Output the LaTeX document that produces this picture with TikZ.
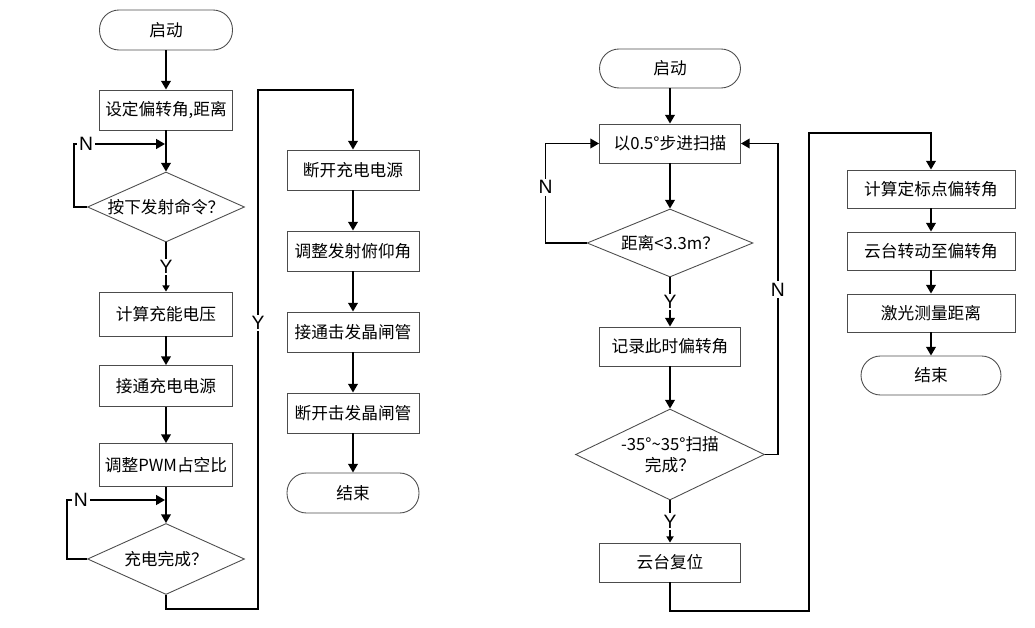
\documentclass[tikz,border=0pt]{standalone}
\usepackage{fontspec}
\setmainfont{Liberation Sans}
\newfontfamily\cjk{Noto Sans CJK SC}
\usetikzlibrary{arrows.meta, shapes.geometric, positioning}

\begin{document}
\begin{tikzpicture}[x=0.02cm, y=-0.02cm,
  procbox/.style={draw=black!70, line width=0.5pt, minimum height=0.8cm, inner sep=2pt, font=\cjk\fontsize{9.5}{12}\selectfont},
  termbox/.style={procbox, rounded corners=0.39cm},
  decision/.style={draw=black!70, line width=0.5pt, diamond, inner sep=0pt, align=center, font=\cjk\fontsize{9.5}{12}\selectfont},
  flow/.style={line width=1pt, -{Triangle[length=5pt,width=5.5pt]}},
  flowsmall/.style={line width=1pt, -{Triangle[length=3.5pt,width=4pt]}},
  yn/.style={fill=white, inner sep=1pt, font=\fontsize{11}{13}\selectfont}
]
\useasboundingbox (0,0) rectangle (1035,628);

% -------- Left chart: charging --------
\node[termbox, minimum width=2.66cm] (start1) at (166,30) {启动};
\node[procbox, minimum width=2.66cm] (angle) at (166,110) {设定偏转角,距离};
\node[decision, minimum width=3.14cm, minimum height=1.4cm, shape aspect=2.3] (fire) at (166,207) {按下发射命令？};
\node[procbox, minimum width=2.66cm, minimum height=0.88cm] (volt) at (166,314) {计算充能电压};
\node[procbox, minimum width=2.66cm, minimum height=0.82cm] (chgon) at (166,386) {接通充电电源};
\node[procbox, minimum width=2.66cm, minimum height=0.86cm] (pwm) at (166,465) {调整PWM占空比};
\node[decision, minimum width=3.14cm, minimum height=1.42cm, shape aspect=2.2] (full) at (166,559) {充电完成？};

% -------- Middle chart: firing --------
\node[procbox, minimum width=2.64cm] (chgoff) at (353,170) {断开充电电源};
\node[procbox, minimum width=2.64cm] (pitch) at (353,251) {调整发射俯仰角};
\node[procbox, minimum width=2.64cm] (scron) at (353,332) {接通击发晶闸管};
\node[procbox, minimum width=2.64cm] (scroff) at (353,413) {断开击发晶闸管};
\node[termbox, minimum width=2.64cm] (end1) at (353,493) {结束};

% -------- Right chart: scanning --------
\node[termbox, minimum width=2.82cm, minimum height=0.78cm] (start2) at (670,68.5) {启动};
\node[procbox, minimum width=2.82cm, minimum height=0.78cm] (scan) at (670,143.5) {以0.5°步进扫描};
\node[decision, minimum width=3.32cm, minimum height=1.36cm, shape aspect=2.4] (near) at (670,243) {距离<3.3m？};
\node[procbox, minimum width=2.82cm, minimum height=0.78cm] (record) at (670,346.5) {记录此时偏转角};
\node[decision, minimum width=3.78cm, minimum height=1.82cm, shape aspect=2.08] (sweep) at (670,454.5) {-35°\textasciitilde35°扫描\\完成？};
\node[procbox, minimum width=2.82cm, minimum height=0.78cm] (reset) at (670,562.5) {云台复位};

% -------- Right chart: measuring --------
\node[procbox, minimum width=3.36cm, minimum height=0.76cm] (target) at (931,189) {计算定标点偏转角};
\node[procbox, minimum width=3.36cm, minimum height=0.76cm] (turn) at (931,251) {云台转动至偏转角};
\node[procbox, minimum width=3.36cm, minimum height=0.76cm] (laser) at (931,313) {激光测量距离};
\node[termbox, minimum width=2.8cm, minimum height=0.78cm] (end2) at (931,375.5) {结束};

% -------- Connectors, left --------
\coordinate (j1) at (165,144);
\coordinate (j2) at (165,500);
\draw[flow] (start1) -- (angle);
\draw[flow] (angle) -- (fire);
\draw[flow] (fire.west) -- ++(-13,0) |- node[yn, pos=0.566] {N} (j1);
\draw[flowsmall] (fire) -- node[yn] {Y} (volt);
\draw[flow] (volt) -- (chgon);
\draw[flow] (chgon) -- (pwm);
\draw[flow] (pwm) -- (full);
\draw[flow] (full.west) -- ++(-20,0) |- node[yn, pos=0.57] {N} (j2);
\draw[flow] (full.south) -- (166,609) -- (258,609) -- node[yn, pos=0.551] {Y} (258,90) -| (chgoff.north);

% -------- Connectors, middle --------
\draw[flow] (chgoff) -- (pitch);
\draw[flow] (pitch) -- (scron);
\draw[flow] (scron) -- (scroff);
\draw[flow] (scroff) -- (end1);

% -------- Connectors, right --------
\draw[flow] (start2) -- (scan);
\draw[flow] (scan) -- (near);
\draw[flow] (near.west) -- ++(-41,0) |- node[yn, pos=0.28] {N} (scan.west);
\draw[flow] (near) -- node[yn] {Y} (record);
\draw[flow] (record) -- (sweep);
\draw[flow] (sweep.east) -- ++(13,0) |- node[yn, pos=0.265] {N} (scan.east);
\draw[flowsmall] (sweep) -- node[yn] {Y} (reset);
\draw[flow] (reset.south) -- (670,611) -- (809,611) -- (809,133) -| (target.north);
\draw[flow] (target) -- (turn);
\draw[flow] (turn) -- (laser);
\draw[flow] (laser) -- (end2);

\end{tikzpicture}
\end{document}
